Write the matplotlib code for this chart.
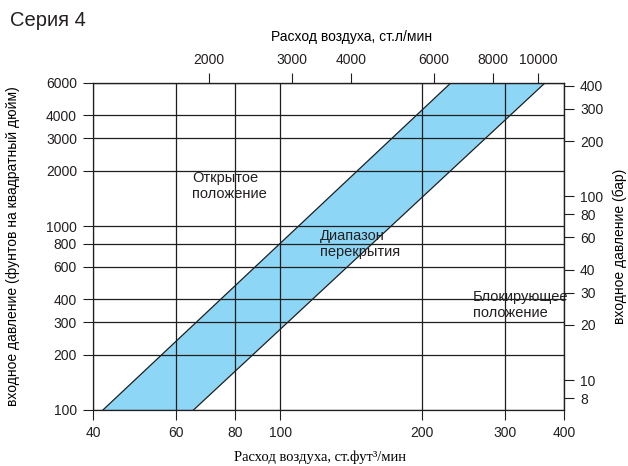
import matplotlib
matplotlib.use('Agg')
import matplotlib.pyplot as plt
from matplotlib.ticker import NullLocator

plt.rcParams['font.family'] = ['Liberation Sans', 'DejaVu Sans']
plt.rcParams['text.color'] = '#231f20'
plt.rcParams['xtick.color'] = '#231f20'
plt.rcParams['ytick.color'] = '#231f20'

# границы диапазона перекрытия: расход (ст.фут3/мин) при 100 и 6000 psi
pressure_edge = [100, 6000]
flow_left = [42, 230]
flow_right = [65.4, 364.5]

x_ticks = [40, 60, 80, 100, 200, 300, 400]
y_ticks = [100, 200, 300, 400, 600, 800, 1000, 2000, 3000, 4000, 6000]
lpm_ticks = [2000, 3000, 4000, 6000, 8000, 10000]
bar_ticks = [8, 10, 20, 30, 40, 60, 80, 100, 200, 300, 400]

LPM_PER_SCFM = 28.3168
PSI_PER_BAR = 14.5038

line_c = '#1f1f1f'
band_c = '#8dd6f6'

fig = plt.figure(figsize=(6.28, 4.66), dpi=100)
ax = fig.add_axes([0.148, 0.1202, 0.75, 0.7017])
ax.set_xscale('log')
ax.set_yscale('log')
ax.set_xlim(40, 400)
ax.set_ylim(100, 6000)

# полоса диапазона перекрытия
ax.fill(flow_left + flow_right[::-1], pressure_edge + pressure_edge[::-1],
        color=band_c, lw=0, zorder=1)
ax.plot(flow_left, pressure_edge, color=line_c, lw=0.9, zorder=1.5)
ax.plot(flow_right, pressure_edge, color=line_c, lw=0.9, zorder=1.5)

ax.set_xticks(x_ticks, [str(v) for v in x_ticks])
ax.set_yticks(y_ticks, [str(v) for v in y_ticks])
ax.xaxis.set_minor_locator(NullLocator())
ax.yaxis.set_minor_locator(NullLocator())
ax.tick_params(direction='out', length=7.5, width=0.8, labelsize=10, pad=4)
ax.grid(True, color=line_c, lw=0.9)
ax.set_axisbelow(False)
for s in ax.spines.values():
    s.set_color(line_c)
    s.set_linewidth(0.9)

txt_kw = dict(transform=ax.transAxes, ha='left', va='top', fontsize=10.5, zorder=2)
ax.text(0.21, 0.731, 'Открытое\nположение', **txt_kw)
ax.text(0.482, 0.553, 'Диапазон\nперекрытия', **txt_kw)
ax.text(0.807, 0.367, 'Блокирующее\nположение', **txt_kw)

ax.set_xlabel('Расход воздуха, ст.фут³/мин', fontsize=10.5,
              family=['Liberation Serif', 'DejaVu Serif'])
ax.xaxis.set_label_coords(0.482, -0.125)
ax.set_ylabel('входное давление (фунтов на квадратный дюйм)', fontsize=10)
ax.yaxis.set_label_coords(-0.155, 0.5)

# верхняя шкала: ст.л/мин
secx = ax.secondary_xaxis('top', functions=(lambda q: q * LPM_PER_SCFM,
                                            lambda q: q / LPM_PER_SCFM))
secx.set_xticks(lpm_ticks, [str(v) for v in lpm_ticks])
secx.xaxis.set_minor_locator(NullLocator())
secx.tick_params(direction='out', length=7.5, width=0.8, labelsize=10, pad=4)
secx.set_xlabel('Расход воздуха, ст.л/мин', fontsize=10)
secx.xaxis.set_label_coords(0.55, 1.128, transform=ax.transAxes)

# правая шкала: бар
secy = ax.secondary_yaxis('right', functions=(lambda p: p / PSI_PER_BAR,
                                              lambda b: b * PSI_PER_BAR))
secy.set_yticks(bar_ticks, [str(v) for v in bar_ticks])
secy.yaxis.set_minor_locator(NullLocator())
secy.tick_params(direction='out', length=7.5, width=0.8, labelsize=10, pad=4)
secy.set_ylabel('входное давление (бар)', fontsize=10, labelpad=6.5)

fig.text(0.016, 1 - 20 / 466, 'Серия 4', fontsize=14.5, ha='left', va='center')

fig.savefig('out.png', dpi=100)
